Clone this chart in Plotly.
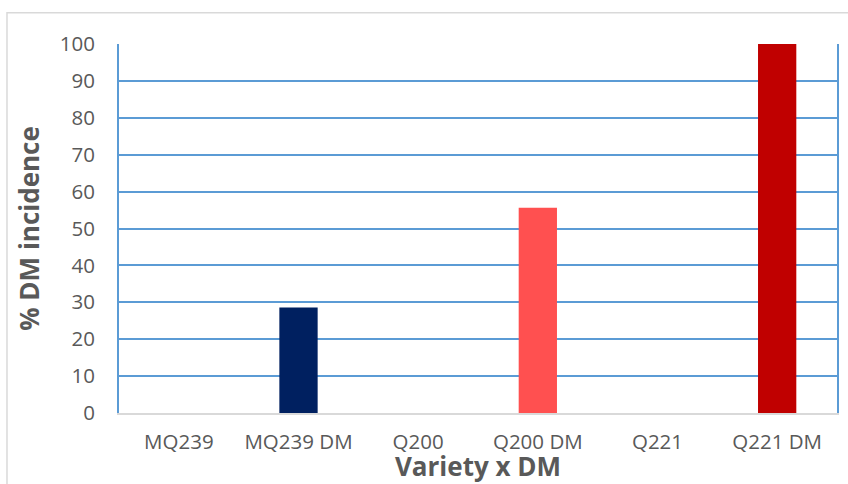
import plotly.graph_objects as go

categories = ["MQ239", "MQ239 DM", "Q200", "Q200 DM", "Q221", "Q221 DM"]
incidence = [0, 28.6, 0, 55.6, 0, 100]
y_ticks = [0, 10, 20, 30, 40, 50, 60, 70, 80, 90, 100]

bar_colors = ["#002060", "#002060", "#FF5050", "#FF5050", "#C00000", "#C00000"]
GRID = "#5B9BD5"
TXT = "#595959"
FONT = "Open Sans, Lato, sans-serif"

fig = go.Figure(
    go.Bar(
        x=categories,
        y=incidence,
        marker=dict(color=bar_colors, line=dict(width=0)),
        hoverinfo="x+y",
    )
)

fig.update_layout(
    width=848,
    height=484,
    margin=dict(l=119, r=11, t=43.5, b=71, autoexpand=False),
    paper_bgcolor="white",
    plot_bgcolor="white",
    bargap=0.68,
    showlegend=False,
    font=dict(family=FONT, color=TXT),
    shapes=[
        dict(
            type="rect", xref="paper", yref="paper",
            x0=-0.156, x1=2, y0=-1, y1=1.085,
            line=dict(color="#D9D9D9", width=1.5),
            fillcolor="rgba(0,0,0,0)", layer="below",
        )
    ],
)

fig.update_xaxes(
    showgrid=False,
    showline=True, linecolor="#D9D9D9", linewidth=2,
    ticks="", tickfont=dict(size=20.5, color=TXT, family=FONT),
    ticklabelstandoff=9,
    title=dict(text="<b>Variety x DM</b>", font=dict(size=26, color=TXT, family=FONT), standoff=9),
    fixedrange=True,
)

fig.update_yaxes(
    range=[0, 100],
    tickvals=y_ticks,
    showgrid=True, gridcolor=GRID, gridwidth=2,
    zeroline=False,
    showline=True, linecolor=GRID, linewidth=2, mirror=True,
    ticks="", tickfont=dict(size=20.5, color=TXT, family=FONT),
    ticklabelstandoff=18,
    title=dict(text="<b>% DM incidence</b>", font=dict(size=26, color=TXT, family=FONT), standoff=13),
    fixedrange=True,
)

fig.write_html("out.html")
